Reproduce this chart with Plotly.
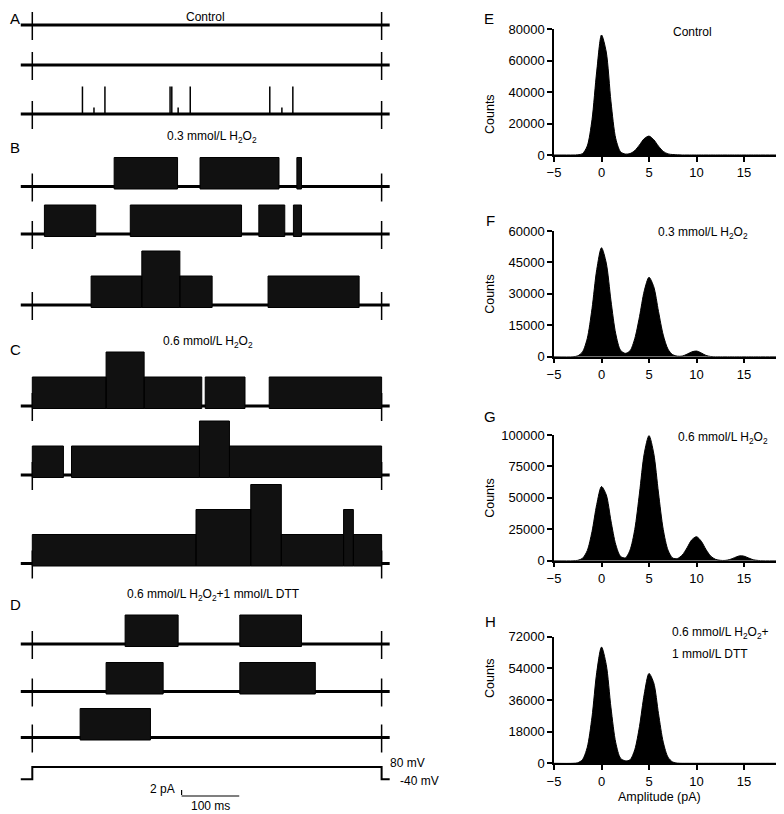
import plotly.graph_objects as go

# the page body adds an 8 px margin, so the figure covers the window from (8, 8)
OFF = 8
W, H = 784 - OFF, 814 - OFF
FONT = "Liberation Sans, Arial, sans-serif"

# ---- single-channel sweeps (left), time in ms from start of the 80 mV step ----
STEP_END = 606
SWEEP_START, SWEEP_STOP = -20, 620
UNIT_PA = 5.0   # single channel amplitude

# open periods: (from ms, to ms, channels open)
A1_BURSTS = []
A2_BURSTS = []
A3_BURSTS = []
A3_SPIKES = [87, 126, 239, 242, 274, 412, 452]
A3_PARTIAL = [107, 253, 433]
B1_BURSTS = [(142, 252, 1), (291, 428, 1), (459, 467, 1)]
B2_BURSTS = [(21, 110, 1), (170, 363, 1), (393, 438, 1), (453, 467, 1)]
B3_BURSTS = [(102, 190, 1), (190, 256, 2), (256, 312, 1), (409, 567, 1)]
C1_BURSTS = [(0, 128, 1), (128, 194, 2), (194, 294, 1), (300, 369, 1), (411, 606, 1)]
C2_BURSTS = [(0, 54, 1), (68, 290, 1), (290, 342, 2), (342, 606, 1)]
C3_BURSTS = [(0, 284, 1), (284, 379, 2), (379, 432, 3), (432, 540, 1), (540, 557, 2), (557, 606, 1)]
D1_BURSTS = [(161, 253, 1), (360, 467, 1)]
D2_BURSTS = [(128, 227, 1), (360, 491, 1)]
D3_BURSTS = [(83, 205, 1)]

PROTOCOL_T = [SWEEP_START, 0, 0, STEP_END, STEP_END, SWEEP_STOP]
PROTOCOL_MV = [-40, -40, 80, 80, -40, -40]

# ---- amplitude histograms (right) ----
AMP = [-5, -3, -2.5, -2, -1.5, -1, -0.5, 0, 0.5, 1, 1.5, 2, 2.5, 3, 3.5, 4, 4.5, 5, 5.5, 6,
       6.5, 7, 7.5, 8, 8.5, 9, 9.5, 10, 10.5, 11, 11.5, 12, 12.5, 13, 13.5, 14, 14.5, 15,
       15.5, 16, 16.5, 17, 19]
COUNTS_E = [0, 0, 100, 850, 5700, 22400, 53300, 76200, 65400, 33700, 10400, 2100, 600, 900,
            2800, 6400, 10400, 12000, 9700, 5600, 2300, 700, 300, 100, 0, 0, 0, 0, 0, 0, 0, 0,
            0, 0, 0, 0, 0, 0, 0, 0, 0, 0, 0]
COUNTS_F = [0, 0, 400, 2300, 8700, 22900, 41600, 52000, 44700, 26600, 10900, 3100, 1600, 2800,
            8600, 19100, 31400, 37900, 33400, 21600, 10300, 3600, 940, 250, 300, 1200, 2300,
            2700, 1800, 600, 100, 0, 0, 0, 0, 0, 0, 0, 0, 0, 0, 0, 0]
COUNTS_G = [0, 0, 300, 1900, 8000, 23100, 44800, 59000, 52400, 31500, 12800, 3500, 2200, 8400,
            24800, 53800, 85300, 99500, 85300, 53800, 24800, 8400, 2100, 1800, 4500, 10200,
            16600, 19100, 15500, 8900, 3600, 1100, 300, 200, 900, 2400, 3800, 3600, 2100, 700,
            200, 0, 0]
COUNTS_H = [0, 0, 300, 2100, 9100, 26300, 51800, 66100, 56100, 31500, 11700, 2900, 1400, 1950,
            7700, 21000, 39400, 51100, 45700, 28200, 12000, 3500, 700, 100, 0, 0, 0, 0, 0, 0,
            0, 0, 0, 0, 0, 0, 0, 0, 0, 0, 0, 0, 0]
TICKS_E = [0, 20000, 40000, 60000, 80000]
TICKS_F = [0, 15000, 30000, 45000, 60000]
TICKS_G = [0, 25000, 50000, 75000, 100000]
TICKS_H = [0, 18000, 36000, 54000, 72000]
AMP_TICKS = [-5, 0, 5, 10, 15]


def px(x):
    # window pixel -> paper fraction
    return (x - OFF) / W


def py(y):
    return 1 - (y - OFF) / H


# layout: baseline of each sweep in the left panel (pA units, 5 px per pA)
NOISE = 0.8
ROWS = [
    (157.8, A1_BURSTS), (149.8, A2_BURSTS), (140.0, A3_BURSTS),
    (125.5, B1_BURSTS), (116.0, B2_BURSTS), (101.8, B3_BURSTS),
    (81.6, C1_BURSTS), (67.8, C2_BURSTS), (50.1, C3_BURSTS),
    (34.0, D1_BURSTS), (24.5, D2_BURSTS), (15.3, D3_BURSTS),
]

fig = go.Figure()

for y0, bursts in ROWS:
    fig.add_trace(go.Scatter(x=[SWEEP_START, SWEEP_STOP], y=[y0, y0], mode="lines",
                             line=dict(color="black", width=3), xaxis="x", yaxis="y"))
    mx, my = [], []
    for t in (0, STEP_END):
        mx += [t, t, None]
        my += [y0 - 3.0, y0 + 2.6, None]
    fig.add_trace(go.Scatter(x=mx, y=my, mode="lines", line=dict(color="black", width=1.5),
                             xaxis="x", yaxis="y"))
    if bursts:
        bx, by = [], []
        for t0, t1, n in bursts:
            top = y0 + n * UNIT_PA + NOISE
            bot = y0 - 0.5
            bx += [t0, t0, t1, t1, t0, None]
            by += [bot, top, top, bot, bot, None]
        fig.add_trace(go.Scatter(x=bx, y=by, mode="lines", fill="toself", fillcolor="#111111",
                                 line=dict(color="black", width=1), xaxis="x", yaxis="y"))

# brief openings in the control sweep
a3 = ROWS[2][0]
sx, sy = [], []
for t in A3_SPIKES:
    sx += [t, t, None]
    sy += [a3, a3 + 1.1 * UNIT_PA, None]
for t in A3_PARTIAL:
    sx += [t, t, None]
    sy += [a3, a3 + 1.3, None]
fig.add_trace(go.Scatter(x=sx, y=sy, mode="lines", line=dict(color="black", width=1.5),
                         xaxis="x", yaxis="y"))

# voltage protocol
fig.add_trace(go.Scatter(x=PROTOCOL_T, y=PROTOCOL_MV, mode="lines",
                         line=dict(color="black", width=2), xaxis="x", yaxis="y6"))

# scale bars: 2 pA, 100 ms
fig.add_trace(go.Scatter(x=[259, 259, None, 259, 359], y=[3.8, 5.8, None, 3.6, 3.6],
                         mode="lines", line=dict(color="black", width=1.2),
                         xaxis="x", yaxis="y"))

# histograms
HISTS = [COUNTS_E, COUNTS_F, COUNTS_G, COUNTS_H]
for i, counts in enumerate(HISTS):
    k = str(i + 2)
    fig.add_trace(go.Scatter(x=AMP, y=counts, mode="lines", fill="tozeroy",
                             fillcolor="black", line=dict(color="black", width=1,
                                                          shape="spline", smoothing=0.8),
                             xaxis="x" + k, yaxis="y" + k))

hidden = dict(visible=False, showgrid=False, zeroline=False, fixedrange=True, automargin=False)
lay = dict(
    template="none",
    width=W, height=H, autosize=False, margin=dict(l=0, r=0, t=0, b=0, pad=0),
    paper_bgcolor="white", plot_bgcolor="white", showlegend=False,
    font=dict(family=FONT, size=12, color="black"),
    xaxis=dict(domain=[0, px(400)], range=[-42.16, 637.9], anchor="y", **hidden),
    yaxis=dict(domain=[0, 1], range=[0, 161.2], anchor="x", **hidden),
    yaxis6=dict(domain=[py(790), py(760)], range=[-144.4, 148.3], anchor="x", **hidden),
)

# histogram axes: (top px, bottom px, yticks)
PANELS = [(29, 155, TICKS_E), (231, 356.7, TICKS_F), (435, 560.7, TICKS_G),
          (636.7, 763.3, TICKS_H)]
axstyle = dict(showgrid=False, zeroline=False, showline=True, linecolor="black", linewidth=1.5,
               ticks="outside", ticklen=5, tickwidth=1.5, tickcolor="black", automargin=False,
               tickfont=dict(family=FONT, size=13, color="black"), fixedrange=True)
for i, (top, bot, yt) in enumerate(PANELS):
    k = str(i + 2)
    lay["xaxis" + k] = dict(domain=[px(554), min(1, px(782))], range=[-5, 19],
                            tickvals=AMP_TICKS, anchor="y" + k, **axstyle)
    lay["yaxis" + k] = dict(domain=[py(bot), py(top)], range=[0, yt[-1]], tickvals=yt,
                            tickformat="d", anchor="x" + k, **axstyle)
fig.update_layout(**lay)

H2O2 = "H<sub>2</sub>O<sub>2</sub>"
notes = [
    # (x px, y px, text, size, xanchor, yanchor)
    (8, 8, "A", 15, "left", "top"), (8, 148, "B", 15, "left", "middle"),
    (8, 349, "C", 15, "left", "middle"), (8, 604, "D", 15, "left", "middle"),
    (489, 8, "E", 15, "center", "top"), (490, 220, "F", 15, "center", "middle"),
    (490, 417, "G", 15, "center", "middle"), (490, 621, "H", 15, "center", "middle"),
    (205, 8, "Control", 12, "center", "top"),
    (212, 137, "0.3 mmol/L " + H2O2, 12, "center", "middle"),
    (208, 342, "0.6 mmol/L " + H2O2, 12, "center", "middle"),
    (213, 595, "0.6 mmol/L " + H2O2 + "+1 mmol/L DTT", 12, "center", "middle"),
    (692, 32, "Control", 12, "center", "middle"),
    (703, 233, "0.3 mmol/L " + H2O2, 12, "center", "middle"),
    (723, 438, "0.6 mmol/L " + H2O2, 12, "center", "middle"),
    (670, 633, "0.6 mmol/L " + H2O2 + "+", 12, "left", "middle"),
    (670, 654, "1 mmol/L DTT", 12, "left", "middle"),
    (388, 763, "80 mV", 12, "left", "middle"),
    (398, 781, "-40 mV", 12, "left", "middle"),
    (177, 789, "2 pA", 12, "right", "middle"),
    (210, 806, "100 ms", 12, "center", "middle"),
    (659, 797, "Amplitude (pA)", 12.5, "center", "middle"),
]
for x, y, text, size, xa, ya in notes:
    fig.add_annotation(x=px(x), y=py(y), xref="paper", yref="paper", text=text,
                       showarrow=False, xanchor=xa, yanchor=ya,
                       font=dict(family=FONT, size=size, color="black"))
for top, bot, _ in PANELS:
    fig.add_annotation(x=px(490), y=py((top + bot) / 2), xref="paper", yref="paper",
                       text="Counts", textangle=-90, showarrow=False,
                       font=dict(family=FONT, size=12.5, color="black"))

fig.write_html("out.html")
